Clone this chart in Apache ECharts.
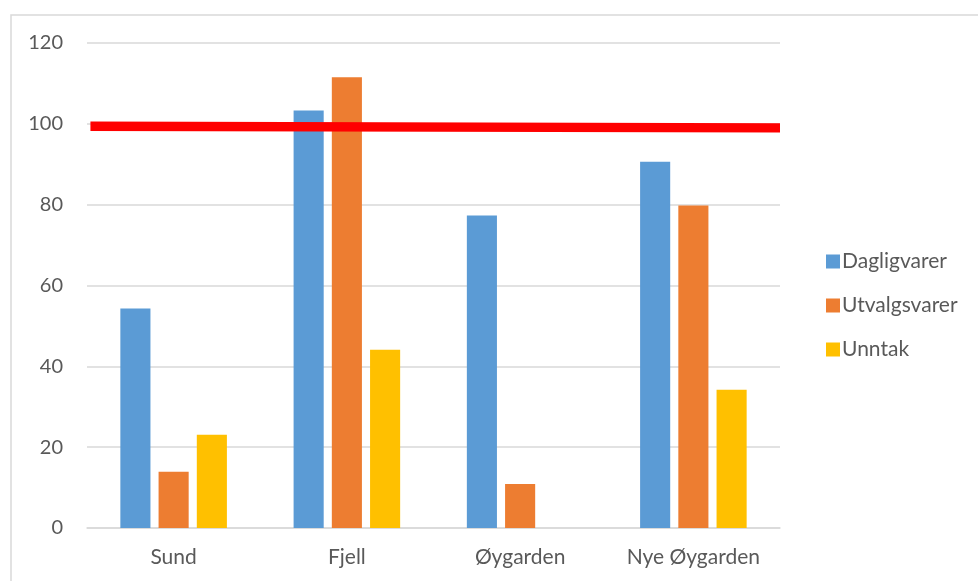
<!DOCTYPE html>
<html><head><meta charset="utf-8">
<script src="https://cdn.jsdelivr.net/npm/echarts@6/dist/echarts.min.js"></script>
<style>html,body{margin:0;padding:0;background:#fff}#c{width:978px;height:581px}</style>
</head><body><div id="c"></div>
<script>
const categories = ['Sund', 'Fjell', 'Øygarden', 'Nye Øygarden'];
const dagligvarer = [54.3, 103.3, 77.3, 90.6];
const utvalgsvarer = [13.9, 111.5, 10.9, 79.8];
const unntak = [23.1, 44.1, 0, 34.2];
const redLine = [[0, 99.4], [1, 99.0]];
const yTicks = [0, 20, 40, 60, 80, 100, 120];

const chart = echarts.init(document.getElementById('c'), null, {renderer: 'canvas'});
const font = 'Lato, "Open Sans", sans-serif';
chart.setOption({
  animation: false,
  graphic: [{type: 'rect', shape: {x: 11, y: 15, width: 1100, height: 700}, style: {fill: 'none', stroke: '#d9d9d9', lineWidth: 1.5}, silent: true, z: -10}],
  grid: {left: 87, right: 198, top: 43, bottom: 53, containLabel: false},
  legend: {
    orient: 'vertical', left: 821, top: 246, itemWidth: 14, itemHeight: 14, itemGap: 23,
    icon: 'rect',
    data: ['Dagligvarer', 'Utvalgsvarer', 'Unntak'],
    textStyle: {color: '#595959', fontSize: 21, fontFamily: font, padding: [0, 0, 0, -3]}
  },
  xAxis: [{
    type: 'category', data: categories,
    axisLine: {lineStyle: {color: '#d9d9d9', width: 1.5}},
    axisTick: {show: false},
    axisLabel: {color: '#595959', fontSize: 21, fontFamily: font, margin: 19, interval: 0, hideOverlap: false}
  }, {
    type: 'value', min: -0.005, max: 1, show: false, position: 'top'
  }],
  yAxis: {
    type: 'value', min: 0, max: 120, interval: 20,
    axisLine: {show: false}, axisTick: {show: false},
    axisLabel: {color: '#595959', fontSize: 20, fontFamily: font, margin: 24,
      formatter: v => yTicks.includes(v) ? String(v) : ''},
    splitLine: {lineStyle: {color: '#d9d9d9', width: 1.5}}
  },
  series: [
    {name: 'Dagligvarer', type: 'bar', data: dagligvarer, itemStyle: {color: '#5b9bd5'}, barGap: '27%', barCategoryGap: '38.5%'},
    {name: 'Utvalgsvarer', type: 'bar', data: utvalgsvarer, itemStyle: {color: '#ed7d31'}},
    {name: 'Unntak', type: 'bar', data: unntak, itemStyle: {color: '#ffc000'}},
    {name: 'line', type: 'line', xAxisIndex: 1, data: redLine, symbol: 'none',
     lineStyle: {color: '#ff0000', width: 9.5}, z: 5, legendHoverLink: false}
  ]
});
</script></body></html>
